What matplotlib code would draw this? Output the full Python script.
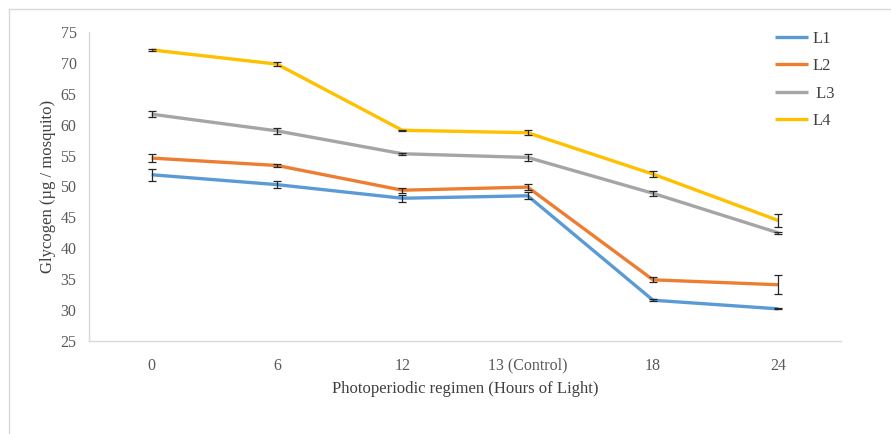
import matplotlib.pyplot as plt
from matplotlib.lines import Line2D
import numpy as np

categories = ['0', '6', '12', '13 (Control)', '18', '24']
series_names = ['L1', 'L2', ' L3', 'L4']
l1 = [51.9, 50.3, 48.1, 48.5, 31.6, 30.2]
l2 = [54.6, 53.4, 49.4, 49.9, 34.9, 34.1]
l3 = [61.7, 59.0, 55.3, 54.7, 48.9, 42.5]
l4 = [72.1, 69.8, 59.1, 58.7, 52.0, 44.5]
l1_err = [1.0, 0.6, 0.6, 0.6, 0.2, 0.1]
l2_err = [0.6, 0.3, 0.4, 0.5, 0.4, 1.5]
l3_err = [0.5, 0.5, 0.2, 0.5, 0.4, 0.2]
l4_err = [0.1, 0.3, 0.1, 0.4, 0.5, 1.0]
colors = ['#5B9BD5', '#ED7D31', '#A5A5A5', '#FFC000']

plt.rcParams['font.family'] = ['Liberation Serif', 'DejaVu Serif']

fig = plt.figure(figsize=(8.91, 4.34), dpi=100)
ax = fig.add_axes([89/891, 1 - 341/434, (841 - 89)/891, (341 - 32)/434])

x = np.arange(len(categories))
for vals, errs, name, c in zip([l1, l2, l3, l4], [l1_err, l2_err, l3_err, l4_err],
                               series_names, colors):
    ax.plot(x, vals, color=c, lw=2.4, label=name, solid_capstyle='butt', zorder=2)
    ax.errorbar(x, vals, yerr=errs, fmt='none', ecolor='#262626', elinewidth=0.9,
                capsize=3, capthick=0.9, zorder=3)

ax.set_xlim(-0.5, len(categories) - 0.5)
ax.set_ylim(25, 75)
ax.set_yticks(range(25, 80, 5))
ax.set_xticks(x)
ax.set_xticklabels(categories)
ax.tick_params(axis='both', length=0, labelsize=11.5, labelcolor='#595959')
ax.tick_params(axis='x', pad=12)
ax.tick_params(axis='y', pad=9)
for s in ['top', 'right']:
    ax.spines[s].set_visible(False)
for s in ['left', 'bottom']:
    ax.spines[s].set_color('#D9D9D9')
    ax.spines[s].set_linewidth(1.0)

ax.set_ylabel('Glycogen (µg / mosquito)', fontsize=12, color='#404040', labelpad=3)
ax.set_xlabel('Photoperiodic regimen (Hours of Light)', fontsize=12,
              color='#404040', labelpad=5)

ax.legend(loc='upper left', bbox_to_anchor=(760/891, 1 - 16/434),
          bbox_transform=fig.transFigure, frameon=False, fontsize=12,
          labelspacing=0.68, handlelength=2.0, handletextpad=0.25,
          labelcolor='#404040')

fig.add_artist(Line2D([9/891, 9/891], [0, 1 - 9/434], color='#D9D9D9', lw=1,
                      transform=fig.transFigure))
fig.add_artist(Line2D([9/891, 1], [1 - 9/434, 1 - 9/434], color='#D9D9D9', lw=1,
                      transform=fig.transFigure))

plt.savefig('out.png', dpi=100)
